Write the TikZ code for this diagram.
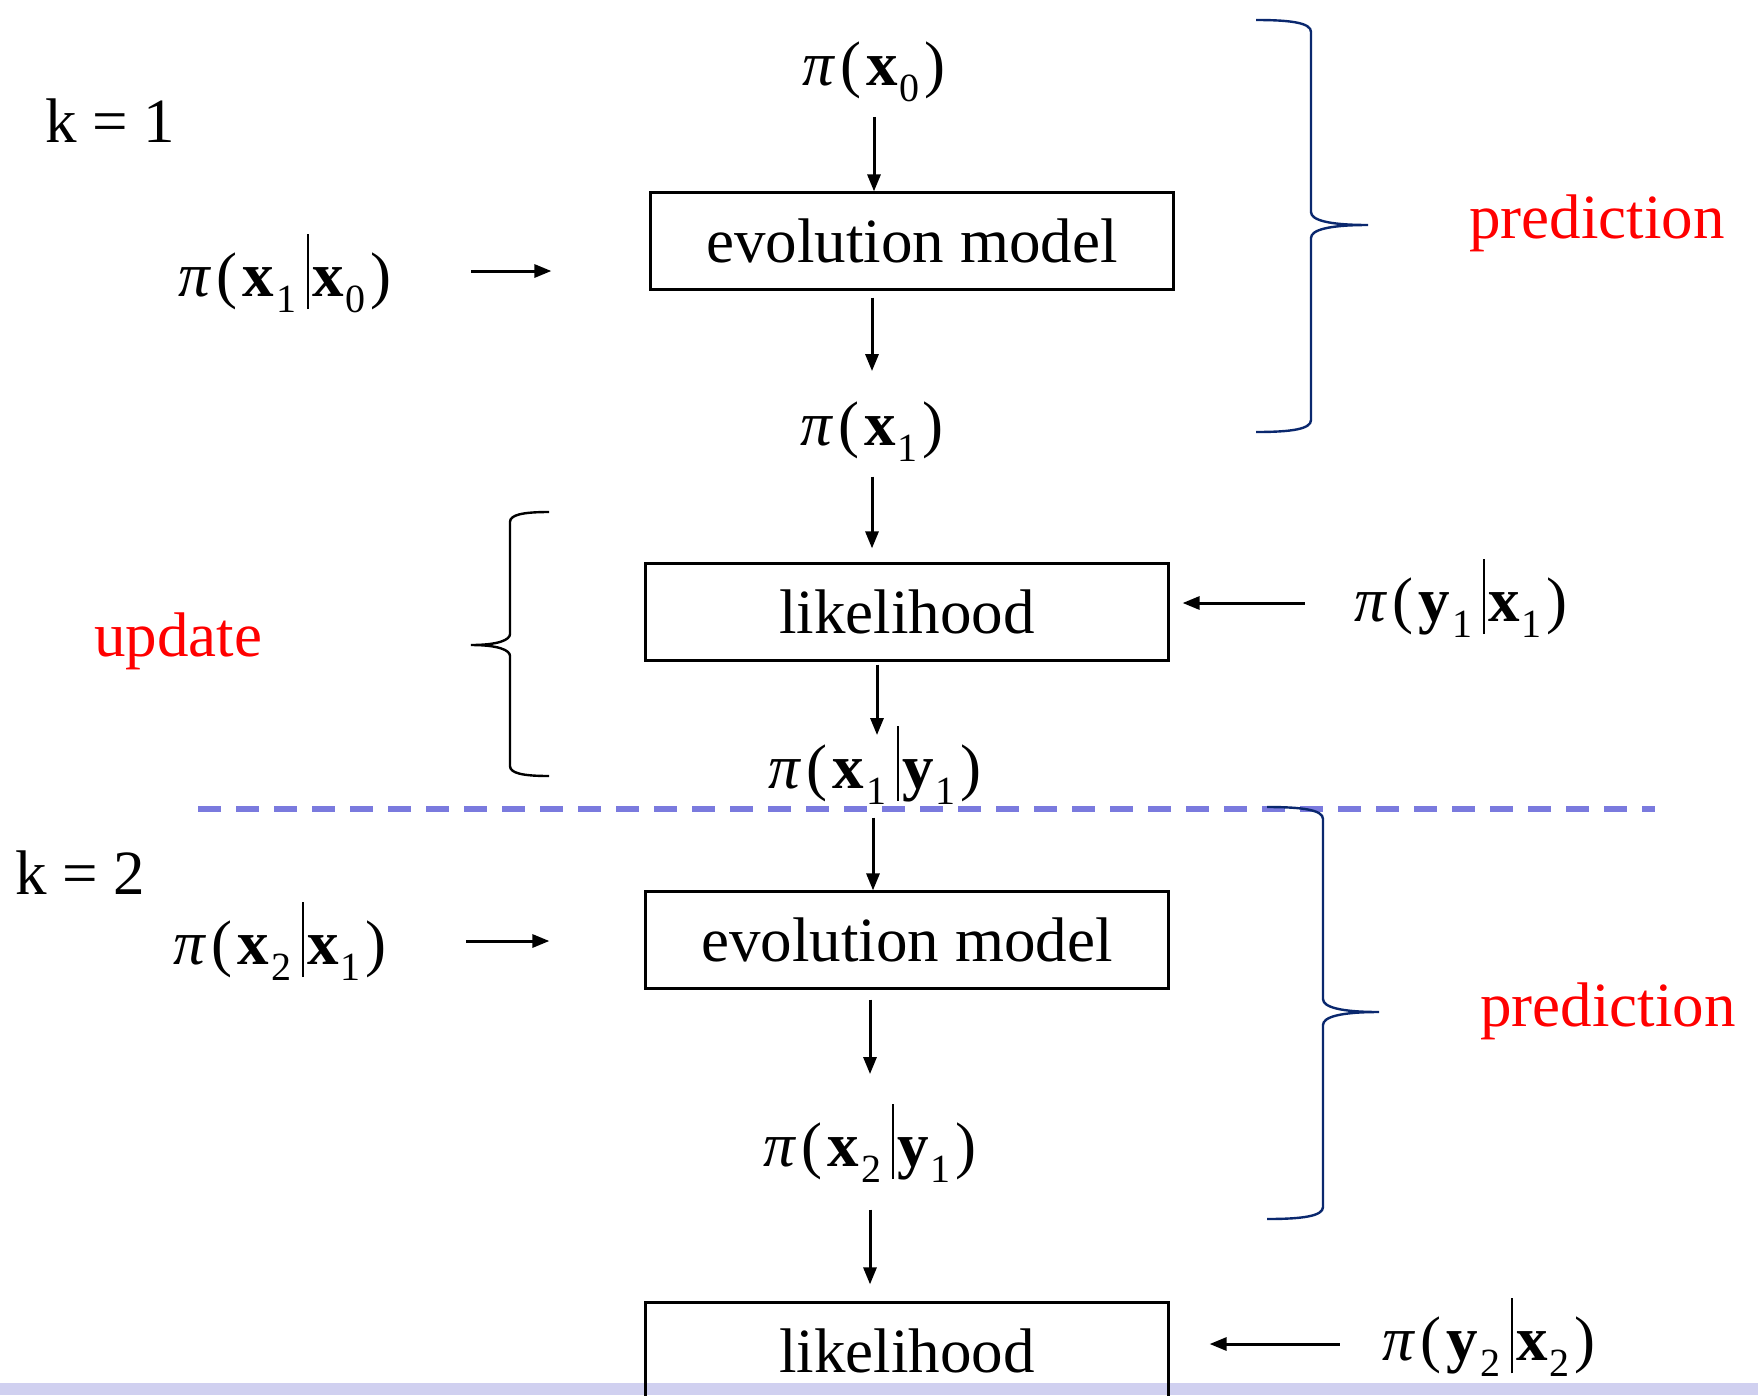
\documentclass[tikz,border=0pt]{standalone}
\usepackage{fontspec}
\setmainfont{Liberation Serif}
\usetikzlibrary{arrows.meta}
\definecolor{navy}{RGB}{10,40,110}
\definecolor{dashblue}{RGB}{122,122,222}
\definecolor{bandcol}{RGB}{208,208,240}
\newcommand{\ppi}{{\itshape π}}
\newcommand{\bsub}[2]{\textbf{#1}\kern0.03em\raisebox{-0.26em}{\fontsize{40}{40}\selectfont #2}}
\newcommand{\cbar}{\kern0.17em\rule[-0.21em]{2.5pt}{1.19em}\kern0.05em}
\newcommand{\pd}[1]{\ppi\kern0.1em(\kern0.08em#1\kern0.07em)}
\tikzset{
  every node/.style={font=\fontsize{63}{70}\selectfont, inner sep=0pt},
  boxn/.style={draw, line width=2.2pt, minimum width=523pt, minimum height=97pt},
  formula/.style={anchor=base},
  lbl/.style={anchor=base west},
  redlbl/.style={anchor=base west, text=red},
  arr/.style={line width=3pt, -{Triangle[length=17pt,width=13pt]}},
  navybrace/.style={draw=navy, line width=2.4pt},
  blackbrace/.style={draw=black, line width=2.4pt},
  sep/.style={draw=dashblue, line width=6pt, dash pattern=on 23pt off 15pt}
}
\begin{document}
\begin{tikzpicture}[x=1pt,y=-1pt]
\useasboundingbox (0,0) rectangle (1758,1395);
\fill[bandcol] (0,1383) rectangle (1758,1395);

% labels
\node[lbl] (k1) at (45,142) {k = 1};
\node[lbl] (k2) at (15,894) {k = 2};
\node[redlbl] (pred1) at (1469,238) {prediction};
\node[redlbl] (pred2) at (1480,1026) {prediction};
\node[redlbl] (upd) at (94,656) {update};

% boxes
\node[boxn] (evo1) at (912,241) {evolution model};
\node[boxn] (lik1) at (907,612) {likelihood};
\node[boxn] (evo2) at (907,940) {evolution model};
\node[boxn] (lik2) at (907,1351) {likelihood};

% formulas
\node[formula] (px0) at (874,85) {\pd{\bsub{x}{0}}};
\node[formula] (px10) at (285,296) {\pd{\bsub{x}{1}\cbar\bsub{x}{0}}};
\node[formula] (px1) at (872,445) {\pd{\bsub{x}{1}}};
\node[formula] (py1x1) at (1461,621) {\pd{\bsub{y}{1}\cbar\bsub{x}{1}}};
\node[formula] (px1y1) at (875,788) {\pd{\bsub{x}{1}\cbar\bsub{y}{1}}};
\node[formula] (px2x1) at (280,964) {\pd{\bsub{x}{2}\cbar\bsub{x}{1}}};
\node[formula] (px2y1) at (870,1166) {\pd{\bsub{x}{2}\cbar\bsub{y}{1}}};
\node[formula] (py2x2) at (1489,1360) {\pd{\bsub{y}{2}\cbar\bsub{x}{2}}};

% separator
\draw[sep] (198,809) -- (1655,809);

% vertical arrows
\draw[arr] ([yshift=-15pt]px0.south) -- (px0.south |- evo1.north);
\draw[arr] ([yshift=-7pt]evo1.south -| px1.north) -- ([yshift=30pt]px1.north);
\draw[arr] ([yshift=-15pt]px1.south) -- ([yshift=14pt]lik1.north -| px1.south);
\draw[arr] ([yshift=-3pt,xshift=2pt]lik1.south -| px1y1.north) -- ([yshift=-9pt,xshift=2pt]px1y1.north);
\draw[arr] ([yshift=-13pt,xshift=-2pt]px1y1.south) -- ([xshift=-2pt]evo2.north -| px1y1.south);
\draw[arr] ([yshift=-10pt]evo2.south -| px2y1.north) -- ([yshift=30pt]px2y1.north);
\draw[arr] ([yshift=-27pt]px2y1.south) -- ([yshift=17pt]lik2.north -| px2y1.south);

% horizontal arrows
\draw[arr] ([xshift=80pt,yshift=25pt]px10.base east) -- ([xshift=-98pt,yshift=25pt]px10.base east -| evo1.west);
\draw[arr] ([xshift=-50pt,yshift=18pt]py1x1.base west) -- ([xshift=13pt,yshift=18pt]py1x1.base west -| lik1.east);
\draw[arr] ([xshift=80pt,yshift=23pt]px2x1.base east) -- ([xshift=-95pt,yshift=23pt]px2x1.base east -| evo2.west);
\draw[arr] ([xshift=-43pt,yshift=16pt]py2x2.base west) -- ([xshift=40pt,yshift=16pt]py2x2.base west -| lik2.east);

% braces
\draw[navybrace] (1256,20) .. controls (1292,20) and (1311,23) .. (1311,32) -- (1311,212)
  .. controls (1311,220) and (1328,225) .. (1368,225)
  .. controls (1328,225) and (1311,230) .. (1311,238) -- (1311,420)
  .. controls (1311,429) and (1292,432) .. (1256,432);
\draw[navybrace] (1267,807) .. controls (1303,807) and (1323,810) .. (1323,819) -- (1323,999)
  .. controls (1323,1007) and (1340,1012) .. (1379,1012)
  .. controls (1340,1012) and (1323,1017) .. (1323,1025) -- (1323,1207)
  .. controls (1323,1216) and (1303,1219) .. (1267,1219);
\draw[blackbrace] (549,512) .. controls (522,512) and (510,515) .. (510,522) -- (510,634)
  .. controls (510,640) and (498,645) .. (471,645)
  .. controls (498,645) and (510,650) .. (510,656) -- (510,766)
  .. controls (510,773) and (522,776) .. (549,776);
\end{tikzpicture}
\end{document}
